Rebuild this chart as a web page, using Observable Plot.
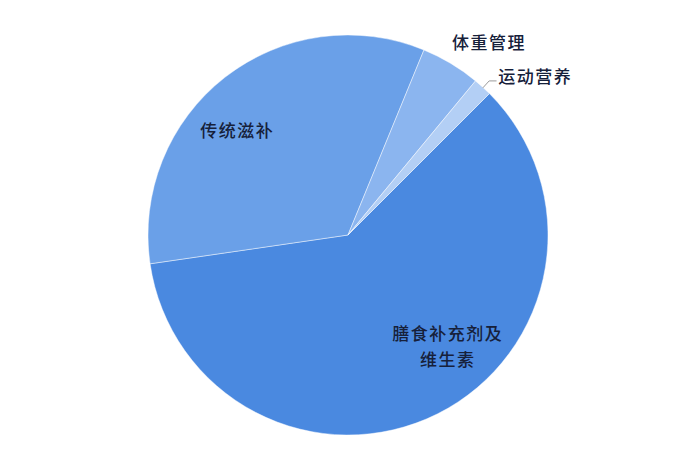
<!DOCTYPE html>
<html><head><meta charset="utf-8">
<script src="https://cdn.jsdelivr.net/npm/d3@7"></script>
<script src="https://cdn.jsdelivr.net/npm/@observablehq/plot@0.6"></script>
<style>
body{margin:0;background:#fff;}
#chart svg text{letter-spacing:1.5px}
</style></head><body><div id="chart"></div>
<script>
const categories = ["膳食补充剂及维生素", "传统滋补", "体重管理", "运动营养"];
const shares = [60.2, 33.5, 4.8, 1.5];
const labelTexts = ["膳食补充剂及\n维生素", "传统滋补", "体重管理", "运动营养"];
const sliceColors = ["#4a89e0", "#6aa0e8", "#8bb5ef", "#b3cff5"];

const data = categories.map((name, i) => ({name, value: shares[i], label: labelTexts[i]}));
const startAngle = Math.PI / 4;
const arcs = d3.pie().sort(null).value(d => d.value)
  .startAngle(startAngle).endAngle(startAngle + 2 * Math.PI)(data);
arcs.forEach(a => { a.mid = (a.startAngle + a.endAngle) / 2; });
const polar = (ang, r) => [r * Math.sin(ang), r * Math.cos(ang)];

const pieMark = Plot.dot(arcs, {
  x: () => 0, y: () => 0, fill: d => d.data.name,
  render(index, scales, values) {
    const cx = scales.x(0), cy = scales.y(0), r = scales.x(1) - scales.x(0);
    const arcGen = d3.arc().innerRadius(0).outerRadius(r);
    const g = d3.create("svg:g").attr("transform", `translate(${cx},${cy})`);
    g.selectAll("path").data(index).join("path")
      .attr("d", i => arcGen(arcs[i]))
      .attr("fill", i => values.fill[i])
      .attr("stroke", "#ffffff").attr("stroke-opacity", 0.45).attr("stroke-width", 1);
    return g.node();
  }
});

const inside = (a, r) => { const p = polar(a.mid, r); return {x: p[0], y: p[1], label: a.data.label}; };
const small = arcs[3];
const leader = [polar(small.mid, 1.0), polar(small.mid, 1.045)];
leader.push([leader[1][0] + 0.035, leader[1][1]]);

const textOpts = {fontFamily: "'Noto Sans CJK SC', sans-serif", fontSize: 17, fontWeight: 500, fill: "#16203a"};

const chart = Plot.plot({
  width: 700, height: 470,
  margin: 0,
  x: {domain: [-1.74, 1.76], range: [0, 700], axis: null},
  y: {domain: [-1.175, 1.175], range: [470, 0], axis: null},
  color: {domain: categories, range: sliceColors},
  style: {background: "#fff"},
  marks: [
    pieMark,
    Plot.text([inside(arcs[0], 0.75)], {x: "x", y: "y", text: "label", dx: 32, dy: -25, lineHeight: 1.55, ...textOpts}),
    Plot.text([inside(arcs[1], 0.75)], {x: "x", y: "y", text: "label", dx: -19, dy: 14, ...textOpts}),
    Plot.text([inside(arcs[2], 1.2)], {x: "x", y: "y", text: "label", dx: 17, dy: 14, ...textOpts}),
    Plot.line(leader, {x: d => d[0], y: d => d[1], stroke: "#9a9a9a", strokeWidth: 1}),
    Plot.text([{x: leader[2][0], y: leader[2][1], label: small.data.label}], {x: "x", y: "y", text: "label", textAnchor: "start", dx: 2, dy: -3, ...textOpts})
  ]
});
document.getElementById("chart").appendChild(chart);
</script>
</body></html>
